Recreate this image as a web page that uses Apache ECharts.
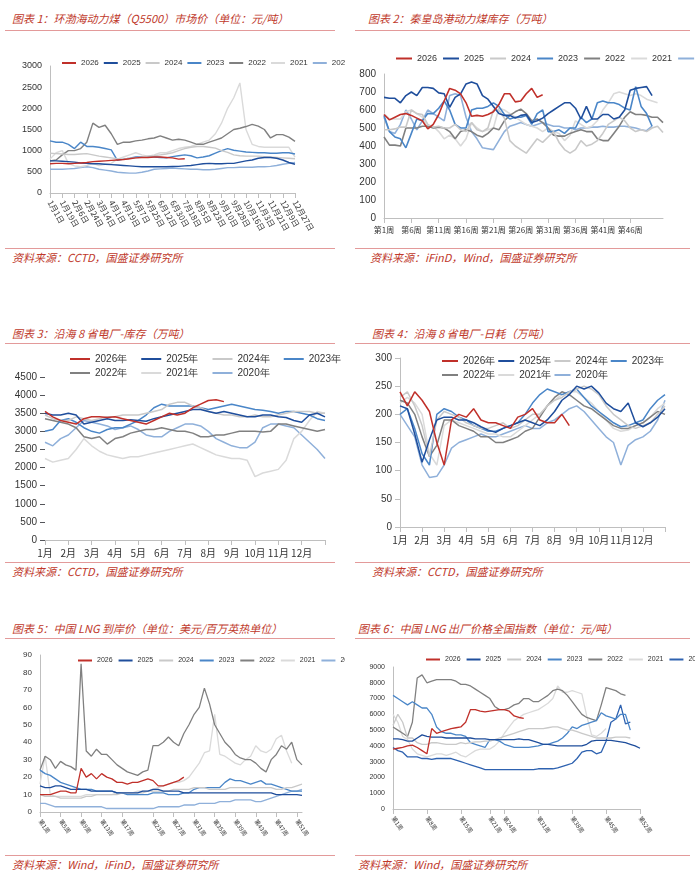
<!DOCTYPE html>
<html><head><meta charset="utf-8">
<script src="https://cdn.jsdelivr.net/npm/echarts@6/dist/echarts.min.js"></script>
<style>
body{margin:0;width:700px;height:876px;background:#fff;font-family:"Noto Sans CJK SC","Noto Sans",sans-serif;position:relative;overflow:hidden}
.t{position:absolute;font-size:11px;font-style:italic;color:#c0392b;white-space:nowrap}
.r{position:absolute;height:1px;background:#e39a9a}
.c{position:absolute}
</style></head><body>
<div class="t" style="left:12px;top:10px">图表 1：环渤海动力煤（Q5500）市场价（单位：元/吨）</div>
<div class="r" style="left:5px;top:30px;width:330px"></div>
<div class="t" style="left:368px;top:10px">图表 2：秦皇岛港动力煤库存（万吨）</div>
<div class="r" style="left:355px;top:30px;width:335px"></div>
<div class="r" style="left:5px;top:248px;width:330px"></div>
<div class="r" style="left:355px;top:248px;width:335px"></div>
<div class="t" style="left:12px;top:249px">资料来源：CCTD，国盛证券研究所</div>
<div class="t" style="left:370px;top:249px">资料来源：iFinD，Wind，国盛证券研究所</div>

<div class="t" style="left:12px;top:325px">图表 3：沿海 8 省电厂-库存（万吨）</div>
<div class="r" style="left:5px;top:343px;width:330px"></div>
<div class="t" style="left:372px;top:325px">图表 4：沿海 8 省电厂-日耗（万吨）</div>
<div class="r" style="left:355px;top:343px;width:335px"></div>
<div class="r" style="left:5px;top:562px;width:330px"></div>
<div class="r" style="left:355px;top:562px;width:335px"></div>
<div class="t" style="left:12px;top:563px">资料来源：CCTD，国盛证券研究所</div>
<div class="t" style="left:372px;top:563px">资料来源：CCTD，国盛证券研究所</div>

<div class="t" style="left:12px;top:620px">图表 5：中国 LNG 到岸价（单位：美元/百万英热单位）</div>
<div class="r" style="left:5px;top:638px;width:330px"></div>
<div class="t" style="left:358px;top:620px">图表 6：中国 LNG 出厂价格全国指数（单位：元/吨）</div>
<div class="r" style="left:355px;top:638px;width:335px"></div>
<div class="r" style="left:5px;top:855px;width:330px"></div>
<div class="r" style="left:355px;top:855px;width:335px"></div>
<div class="t" style="left:12px;top:856px">资料来源：Wind，iFinD，国盛证券研究所</div>
<div class="t" style="left:358px;top:856px">资料来源：Wind，国盛证券研究所</div>

<div id="c1" class="c" style="left:5px;top:40px;width:340px;height:200px"></div>
<div id="c2" class="c" style="left:355px;top:40px;width:340px;height:200px"></div>
<div id="c3" class="c" style="left:5px;top:345px;width:340px;height:215px"></div>
<div id="c4" class="c" style="left:355px;top:345px;width:340px;height:215px"></div>
<div id="c5" class="c" style="left:5px;top:640px;width:340px;height:210px"></div>
<div id="c6" class="c" style="left:355px;top:640px;width:340px;height:210px"></div>
<script>
// ---------- chart 1 ----------
const c1Dates=['1月1日','1月10日','1月19日','1月28日','2月6日','2月15日','2月24日','3月5日','3月14日','3月23日','4月1日','4月10日','4月19日','4月28日','5月7日','5月16日','5月25日','6月3日','6月12日','6月21日','6月30日','7月9日','7月18日','7月27日','8月5日','8月14日','8月23日','9月1日','9月10日','9月19日','9月28日','10月7日','10月16日','10月25日','11月3日','11月12日','11月21日','11月30日','12月9日','12月18日','12月27日'];
const c1_2026=[690,700,700,690,700,710,720,740,750,760,770,780,790,810,830,840,840,850,850,840,830,800,810];
const c1_2025=[760,760,750,740,730,710,700,690,690,680,670,660,650,640,630,620,620,620,620,620,625,630,640,650,670,690,700,690,690,700,700,730,760,780,820,840,840,820,780,720,680];
const c1_2024=[940,930,920,910,910,920,930,900,870,850,830,810,800,820,830,850,870,880,900,920,950,1000,1050,1080,1100,1100,1080,1060,1000,960,900,880,870,870,870,860,850,840,830,820,810];
const c1_2023=[1230,1200,1200,1150,1050,1200,1100,1100,1080,1050,1020,770,800,820,850,860,860,850,840,830,860,880,900,880,830,850,880,940,1000,1050,1010,990,970,960,950,950,940,940,950,950,920];
const c1_2022=[760,780,900,1000,1000,1050,1200,1650,1550,1600,1400,1150,1200,1200,1230,1250,1280,1300,1350,1300,1250,1270,1250,1200,1150,1150,1200,1250,1300,1400,1500,1530,1570,1620,1580,1500,1300,1380,1380,1320,1220];
const c1_2021=[800,950,1000,700,640,620,650,700,650,680,700,800,850,900,950,900,870,900,950,950,1000,1050,1080,1100,1150,1200,1250,1400,1650,2000,2250,2600,1500,1150,1100,1080,1080,1080,1080,1080,850];
const c1_2020=[560,560,560,570,580,600,620,600,560,540,520,490,480,470,470,490,520,560,570,580,590,580,570,560,560,550,550,560,580,600,600,610,610,610,620,620,630,650,680,700,720];
// ---------- chart 2 ----------
const weeks52=Array.from({length:52},(_, i)=>'第'+(i+1)+'周');
const c2Labels=['第1周','第6周','第11周','第16周','第21周','第26周','第31周','第36周','第41周','第46周'];
const c2_2026=[575,545,560,575,580,570,555,540,495,520,575,650,720,710,690,640,565,570,565,575,590,630,690,690,645,650,690,720,670,685];
const c2_2025=[670,665,665,640,680,700,680,725,725,720,695,690,615,670,690,745,755,745,680,660,620,580,570,570,555,570,575,530,540,555,580,600,620,640,640,610,550,620,550,550,575,575,550,560,600,710,720,725,730,680];
const c2_2024=[490,490,495,505,505,600,580,575,520,505,510,500,500,520,490,480,530,490,480,500,600,600,555,430,400,380,360,400,440,420,450,480,420,380,360,380,430,400,410,430,470,520,540,560,540,500,480,490,480,500,510,475];
const c2_2023=[570,480,450,440,390,470,550,540,580,580,610,650,600,520,500,500,600,610,610,620,640,620,575,550,560,560,570,520,580,600,480,480,490,470,500,500,560,530,550,640,650,640,640,630,610,600,730,620,580,510];
const c2_2022=[450,405,405,400,500,500,500,510,510,500,505,500,480,440,480,490,480,460,450,470,500,490,540,570,590,605,580,540,550,530,500,460,455,455,470,480,490,480,480,440,430,430,470,510,560,590,575,575,570,560,560,530];
const c2_2021=[580,550,550,550,590,600,580,560,500,510,480,440,460,440,400,440,530,500,480,490,500,610,600,580,560,540,520,510,500,480,500,480,470,430,460,540,520,500,510,540,600,640,690,700,690,680,690,680,660,650,640];
const c2_2020=[560,480,470,520,600,550,490,540,600,580,560,540,680,690,680,560,480,440,390,385,380,430,480,510,520,530,520,510,520,530,520,510,510,500,500,490,500,500,505,505,510,505,505,510,510,505,500,490,485,510];
// ---------- chart 3 / 4 (3 points per month) ----------
const months=['1月','2月','3月','4月','5月','6月','7月','8月','9月','10月','11月','12月',''];
const c3_2026=[3550,3400,3300,3250,3200,3350,3400,3400,3380,3400,3350,3300,3250,3200,3300,3400,3500,3450,3500,3650,3750,3850,3870,3820];
const c3_2025=[3500,3450,3450,3500,3450,3200,3250,3300,3350,3300,3300,3320,3300,3280,3350,3400,3450,3500,3550,3600,3600,3550,3500,3550,3500,3450,3400,3400,3450,3450,3400,3380,3300,3250,3450,3500,3400];
const c3_2024=[3450,3350,3300,3300,3400,3350,3300,3350,3400,3400,3450,3450,3450,3500,3550,3600,3750,3800,3800,3700,3650,3550,3500,3450,3450,3400,3400,3450,3400,3400,3450,3500,3550,3550,3550,3500,3500];
const c3_2023=[3000,3050,3300,3350,3250,3100,3000,2950,3050,3100,3100,3200,3300,3450,3650,3750,3700,3700,3700,3700,3650,3600,3650,3700,3750,3700,3650,3600,3580,3550,3500,3550,3550,3500,3450,3350,3300];
const c3_2022=[3350,3300,3250,3200,3100,2850,2800,2850,2650,2800,2850,2950,3000,3050,3050,3100,3050,3000,3000,2950,2850,2850,2900,2900,2950,3000,3000,3000,2980,3000,3200,3200,3150,3100,3050,3000,3050];
const c3_2021=[2250,2150,2200,2250,2500,2800,2600,2450,2350,2300,2250,2300,2300,2350,2400,2450,2500,2550,2600,2650,2550,2450,2350,2300,2250,2250,2200,1750,1850,1900,1950,2200,2800,3000,3300,3550,3500];
const c3_2020=[2700,2600,2800,2900,3100,3300,3250,3200,3150,3050,3100,3150,3050,2900,2850,2850,3000,3100,3200,3200,3150,3000,2800,2700,2600,2550,2550,2700,3100,3200,3200,3150,3100,2900,2700,2500,2250];
const c4_2026=[240,215,240,225,205,150,110,190,200,195,210,190,185,185,180,175,195,200,210,190,185,185,200,180];
const c4_2025=[215,210,165,115,155,190,195,195,190,190,185,178,172,168,175,180,185,190,185,180,190,205,225,235,250,245,250,238,220,210,205,220,185,178,185,195,210];
const c4_2024=[230,240,215,180,125,190,205,200,195,185,180,175,175,180,185,175,180,190,200,200,215,225,230,240,245,250,245,235,215,200,190,180,175,180,185,200,215];
const c4_2023=[200,210,175,130,110,200,210,205,195,190,180,175,170,170,175,180,185,200,220,235,245,240,235,240,245,230,215,205,195,185,178,180,185,190,210,225,235];
const c4_2022=[225,220,200,160,125,145,190,190,180,175,170,160,160,150,150,155,160,170,175,195,215,230,240,235,225,215,210,200,190,180,175,175,180,185,195,205,200];
const c4_2021=[220,230,220,200,130,110,180,190,185,180,175,170,165,165,160,160,170,180,190,200,215,225,235,240,240,230,220,205,190,175,170,172,180,185,195,210,220];
const c4_2020=[200,180,160,110,88,90,110,140,150,155,160,165,160,160,165,170,175,180,175,175,185,190,200,210,215,205,190,175,160,150,110,145,155,160,170,190,225];
// ---------- chart 5 ----------
const c5Labels=['第1周','第5周','第9周','第13周','第17周','第23周','第27周','第31周','第35周','第39周','第43周','第47周','第51周'];
const c5_2026=[10,10,10,11,12,12,11,11,25,20,22,19,22,20,19,17,17,16,17,17,18,19,18,15,15,16,17,18,20];
const c5_2025=[15,14,14,15,15,14,13,13,13,13,12,12,12,12,12,11,11,11,11,11,12,12,13,13,12,12,12,12,11,11,11,11,11,11,11,11,11,11,11,11,11,11,11,11,11,11,10,10,10,10,10,9.5];
const c5_2024=[10,9,9,9,8,8,8,8,8,9,9,10,10,10,10,10,11,11,11,11,11,12,12,12,12,12,13,13,13,13,14,14,14,13,13,13,13,14,14,14,14,14,14,14,14,14,13,13,14,14,15,16];
const c5_2023=[24,22,21,19,17,16,15,14,13,13,13,12,12,12,12,11,11,10,10,10,10,10,11,11,11,10,10,10,11,11,13,14,14,14,14,14,17,19,18,18,17,16,17,18,16,16,15,14,13,12,12,12];
const c5_2022=[24,32,30,25,29,27,26,24,85,35,32,36,33,33,30,27,25,23,22,21,23,24,38,38,40,43,40,38,45,50,56,60,71,62,50,45,40,37,33,31,30,30,28,25,23,30,33,38,36,40,30,27];
const c5_2021=[16,32,10,9,9,9,9,9,9,10,10,10,10,10,10,11,11,11,11,12,12,12,13,14,15,16,17,17,18,20,24,28,34,35,56,33,32,30,28,27,30,32,38,35,34,36,42,44,35,28];
const c5_2020=[5,5,4,3,3,3,3,3,3,3,3,3,3,2,2,2,2,2,2,2,2,2,2,3,3,3,3,3,4,4,4,5,5,5,5,6,6,6,7,7,7,7,6,6,7,8,9,10,11,12,12,13];
// ---------- chart 6 ----------
const c6Labels=['第1周','第8周','第15周','第21周','第24周','第31周','第38周','第45周','第52周'];
const c6_2026=[3800,3850,3900,4000,4050,3900,3700,3500,5100,4800,4900,5000,5100,5150,5200,5500,6300,6300,6200,6150,6200,6250,6300,6300,6200,5900,5800,5750];
const c6_2025=[4450,4450,4400,4300,4300,4500,4700,4600,4550,4550,4550,4500,4500,4500,4500,4500,4500,4450,4450,4450,4400,4400,4400,4400,4400,4400,4450,4400,4400,4300,4200,4100,4100,4050,4000,4000,4000,4000,4000,4000,4100,4300,4350,4350,4350,4350,4300,4250,4200,4100,4000,3850];
const c6_2024=[5300,6000,5500,4500,4500,4200,4100,4100,4200,4200,4150,4100,4100,4100,4200,4150,4200,4250,4250,4300,4300,4400,4500,4600,4700,4800,4900,5000,5100,5100,5100,5100,5150,5200,5200,5100,5000,5000,4900,4800,4700,4600,4500,4500,4500,4500,4550,4550,4550,4500];
const c6_2023=[7200,7000,6800,6600,6800,6600,6400,6400,6000,5200,4900,4800,4800,4700,4700,4600,4200,4100,4000,3900,4400,4400,4300,4100,4000,3900,3900,3900,3900,3950,4000,4100,4100,4200,4300,4500,4800,5200,5100,5300,5400,5500,5600,6100,5900,5800,5700,6000,6000,5000];
const c6_2022=[5200,5000,4800,4600,5500,8300,8500,8000,8100,8200,8200,8200,8200,8100,7900,7900,7800,7600,7400,7200,7000,6500,6300,6300,6400,6600,6700,7000,7000,6800,6800,7000,7200,7500,7600,7500,7200,6800,6400,6000,5800,5700,5600,6600,7700,7600,7500,7300,7200];
const c6_2021=[6000,5500,4600,4400,3800,3500,3400,3300,3400,3500,3500,3400,3500,3600,3400,3300,3500,3700,3800,3800,3800,4000,4300,4800,5200,5600,5800,6000,6100,6200,6300,6500,6700,7000,7800,7400,7400,7500,7400,7300,5900,4700,4600,4800,5100];
const c6_2020=[3900,3700,3600,3300,3300,3300,3200,3200,3150,3200,3200,3200,3200,3100,3000,2900,2800,2700,2600,2500,2500,2500,2500,2500,2500,2500,2500,2500,2500,2500,2550,2550,2550,2550,2600,2700,2800,2900,3200,3600,3700,3700,3500,3600,4300,5500,5700,6600,5400,5500];

const COL={'2026':'#c0302a','2025':'#1f4e9c','2024':'#c9c9c9','2023':'#4a86c8','2022':'#808080','2021':'#dadada','2020':'#8fb0da'};
const years=['2026','2025','2024','2023','2022','2021','2020'];
const axLab={color:'#333',fontSize:10,fontFamily:'Liberation Sans',formatter:v=>String(v)};
const axLine={lineStyle:{color:'#bfbfbf'}};

function mk(id,o){echarts.init(document.getElementById(id)).setOption(o);}
function lines(datas,names,cols,xy,w){
  return datas.map((d,i)=>({type:'line',name:names[i],data:xy?d.map((v,j)=>[j/3,v]):d,showSymbol:false,
    lineStyle:{width:w||1.4,color:cols[i]},itemStyle:{color:cols[i]},z:10-i,animation:false}));
}
function catAxis(cats,labels,rot,fs){
  return {type:'category',data:cats,boundaryGap:false,axisLine:axLine,
    axisTick:{show:true,interval:(i,v)=>labels.includes(v),lineStyle:{color:'#bfbfbf'}},
    axisLabel:{color:'#333',fontFamily:'Noto Sans CJK SC',fontSize:fs||9,rotate:rot||0,hideOverlap:false,interval:(i,v)=>labels.includes(v)}};
}
const cols7=years.map(y=>COL[y]);
function leg(top,left,iw,gap,fs){return {top:top,left:left,width:600,itemWidth:iw,itemHeight:2,itemGap:gap,icon:'rect',textStyle:{fontSize:fs,color:'#333',fontFamily:'Liberation Sans'}};}

// chart 1
mk('c1',{animation:false,legend:leg(14,52,14,5,8),
  grid:{left:45,top:26,width:245,height:127},
  xAxis:{...catAxis(c1Dates,c1Dates.filter((d,i)=>i%2==0),-60,8)},
  yAxis:{type:'value',min:0,max:3000,interval:500,splitLine:{show:false},axisLine:{show:true,lineStyle:{color:'#bfbfbf'}},axisLabel:{...axLab,fontSize:9}},
  series:lines([c1_2026,c1_2025,c1_2024,c1_2023,c1_2022,c1_2021,c1_2020],years,cols7)});
// chart 2
mk('c2',{animation:false,legend:leg(9,36,16,6,9),
  grid:{left:29,top:34,width:279,height:144},
  xAxis:{...catAxis(weeks52,c2Labels,0,8)},
  yAxis:{type:'value',min:0,max:800,interval:100,splitLine:{show:false},axisLine:{show:true,lineStyle:{color:'#bfbfbf'}},axisLabel:axLab},
  series:lines([c2_2026,c2_2025,c2_2024,c2_2023,c2_2022,c2_2021,c2_2020],years,cols7,false,1.6)});
// chart 3 & 4
const yn=years.map(y=>y+'年');
function monthX(){return {type:'value',min:0,max:12,interval:1,splitLine:{show:false},axisLine:axLine,axisTick:{show:true,lineStyle:{color:'#bfbfbf'}},
  axisLabel:{color:'#333',fontFamily:'Noto Sans CJK SC',fontSize:10,formatter:v=>months[Math.round(v)]}};}
function twoLegends(top,left,iw,gap,fs){return [
  {...leg(top,left,iw,gap,fs),data:yn.slice(0,4)},{...leg(top+14,left,iw,gap,fs),data:yn.slice(4)}];}
mk('c3',{animation:false,legend:twoLegends(4,60,20,14,10),
  grid:{left:40,top:32,width:280,height:163},xAxis:monthX(),
  yAxis:{type:'value',min:0,max:4500,interval:500,splitLine:{show:false},axisLine:{show:false},axisLabel:axLab},
  series:lines([c3_2026,c3_2025,c3_2024,c3_2023,c3_2022,c3_2021,c3_2020],yn,cols7,true,1.5)});
mk('c4',{animation:false,legend:twoLegends(6,82,16,3,10),
  grid:{left:45,top:13,width:265,height:169},xAxis:monthX(),
  yAxis:{type:'value',min:0,max:300,interval:50,splitLine:{show:false},axisLine:{show:true,lineStyle:{color:'#bfbfbf'}},axisLabel:axLab},
  series:lines([c4_2026,c4_2025,c4_2024,c4_2023,c4_2022,c4_2021,c4_2020],yn,cols7,true,1.5)});
// chart 5
mk('c5',{animation:false,legend:leg(12,68,14,6,7),
  grid:{left:35,top:15,width:262,height:157},
  xAxis:{...catAxis(weeks52,c5Labels,-55,6)},
  yAxis:{type:'value',min:0,max:90,interval:10,splitLine:{show:false},axisLine:{show:true,lineStyle:{color:'#bfbfbf'}},axisLabel:{...axLab,fontSize:8}},
  series:lines([c5_2026,c5_2025,c5_2024,c5_2023,c5_2022,c5_2021,c5_2020],years,cols7,false,1.3)});
// chart 6
const cols6=cols7.slice(0,6).concat(['#2e62b0']);
mk('c6',{animation:false,legend:leg(11,66,14,6,7),
  grid:{left:38,top:27,width:247,height:142},
  xAxis:{...catAxis(weeks52,c6Labels,-55,6)},
  yAxis:{type:'value',min:0,max:9000,interval:1000,splitLine:{show:false},axisLine:{show:true,lineStyle:{color:'#bfbfbf'}},axisLabel:{...axLab,fontSize:7}},
  series:lines([c6_2026,c6_2025,c6_2024,c6_2023,c6_2022,c6_2021,c6_2020],years,cols6,false,1.3)});
</script>
</body></html>
